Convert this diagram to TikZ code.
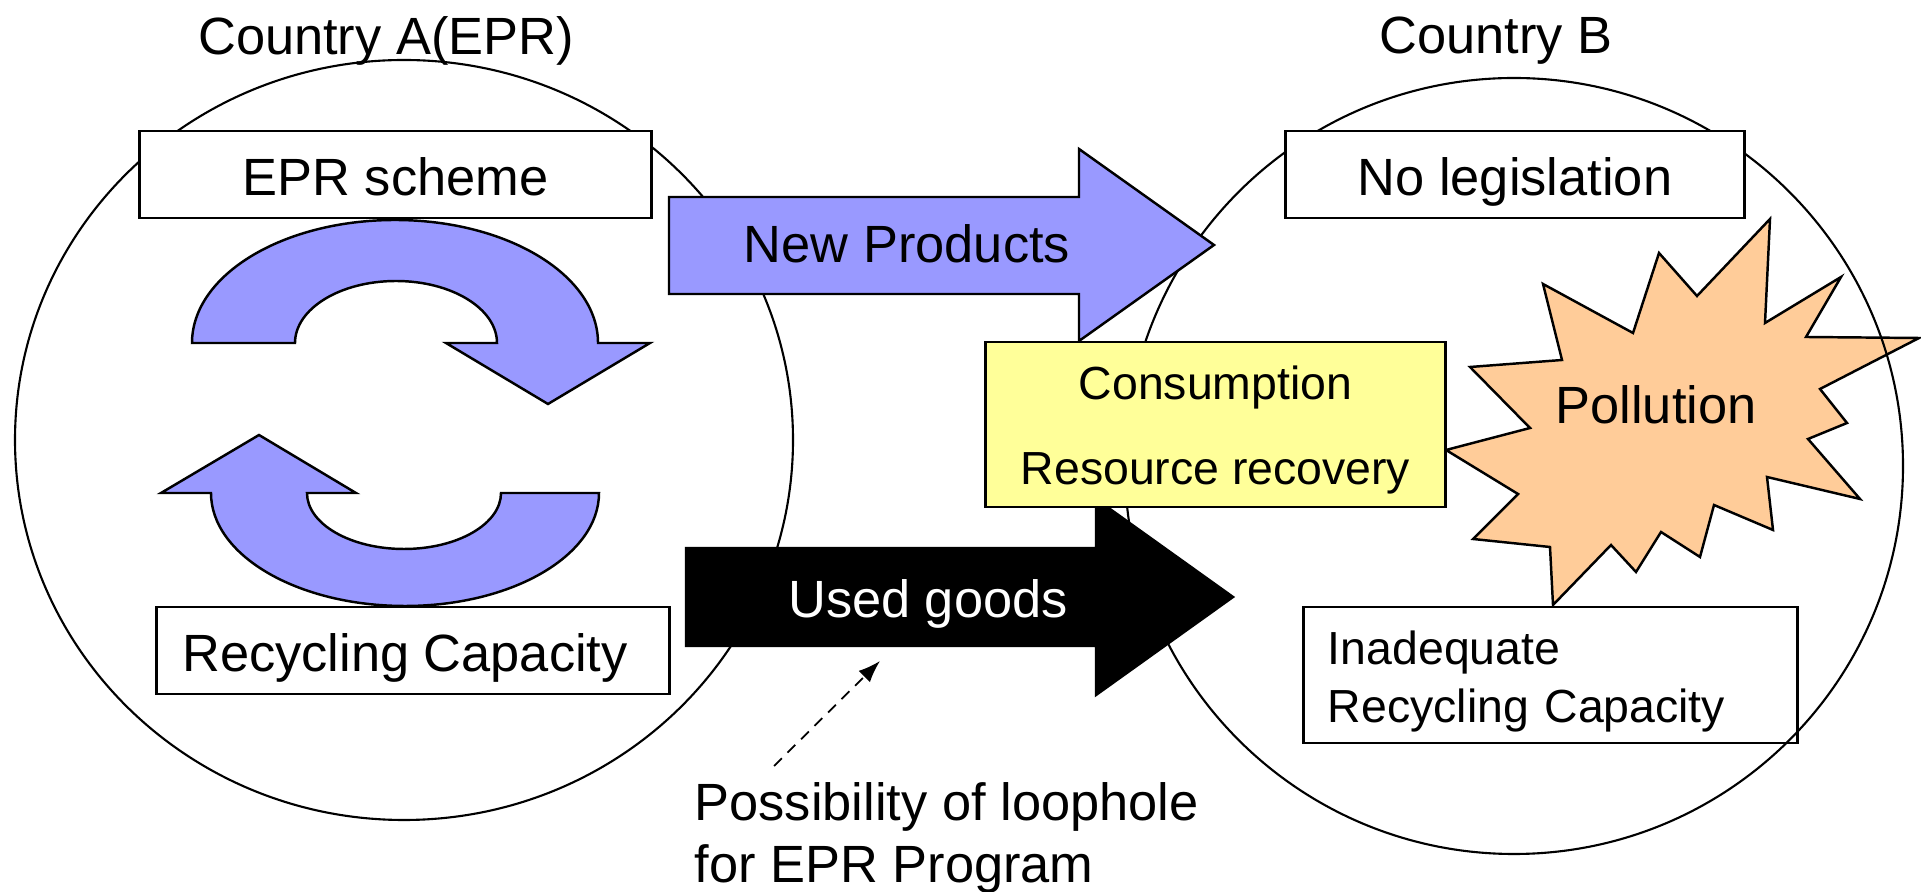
\documentclass[tikz,border=0pt]{standalone}
\usepackage{fontspec}
\setmainfont{Liberation Sans}
\usetikzlibrary{arrows.meta}

\definecolor{flowblue}{RGB}{153,153,255}
\definecolor{notepaper}{RGB}{255,255,153}
\definecolor{smog}{RGB}{255,204,153}

\newcommand{\bigfnt}{\fontsize{14.9}{17.6}\selectfont}
\newcommand{\smfnt}{\fontsize{13.2}{24.2}\selectfont}

\tikzset{
  labelbox/.style={draw,fill=white,line width=0.8pt,inner sep=0pt,
    font=\bigfnt,text height=0.55cm,text depth=0.14cm},
  blockarrow/.style={draw,line width=0.7pt,line join=miter},
}

\begin{document}
\begin{tikzpicture}[x=0.01cm,y=-0.01cm]
  \useasboundingbox (0,0) rectangle (1921,892);

  % pollution burst, under the circle of country B
  \draw[blockarrow,fill=smog]
    (1770,219) -- (1765,323) -- (1841,277) -- (1806,337) -- (1919,338)
    -- (1820,389) -- (1847,423) -- (1808,439) -- (1860,499) -- (1767,477)
    -- (1773,530) -- (1714,505) -- (1700,557) -- (1661,532) -- (1636,572)
    -- (1611,545) -- (1553,605) -- (1550,547) -- (1473,539) -- (1518,494)
    -- (1446,450) -- (1530,428) -- (1470,367) -- (1562,360) -- (1543,284)
    -- (1633,333) -- (1659,253) -- (1697,296) -- cycle;

  % the two countries
  \draw[line width=0.6pt] (404,440) ellipse [x radius=389, y radius=380];
  \draw[line width=0.6pt] (1514,466) ellipse [x radius=389, y radius=388];

  % recycling loop
  \begin{scope}[every path/.style={blockarrow,fill=flowblue}]
    \path (192,343) arc[start angle=180, end angle=360, x radius=203, y radius=123]
      -- (650,343) -- (548,404) -- (446,343) -- (497,343)
      arc[start angle=0, end angle=-180, x radius=101, y radius=62] -- cycle;
    \path (599,493) arc[start angle=0, end angle=180, x radius=194, y radius=113]
      -- (161,493) -- (259,435) -- (356,493) -- (307,493)
      arc[start angle=180, end angle=0, x radius=97, y radius=56] -- cycle;
  \end{scope}

  % flows between the countries
  \draw[blockarrow,fill=flowblue]
    (669,197) -- (1079,197) -- (1079,149) -- (1214,245)
    -- (1079,341) -- (1079,294) -- (669,294) -- cycle;
  \draw[blockarrow,fill=black]
    (686,548) -- (1096,548) -- (1096,499) -- (1233,597)
    -- (1096,695) -- (1096,646) -- (686,646) -- cycle;

  \begin{scope}[every node/.style={font=\bigfnt,inner sep=0pt,anchor=base}]
    \node (cA)   at (386,55)  {Country A(EPR)};
    \node (cB)   at (1496,54) {Country B};
    \node (newp) at (907,263) {New Products};
    \node[text=white] (used) at (928,618) {Used goods};
    \node (poll) at (1656,424) {Pollution};
  \end{scope}

  \node[labelbox,minimum width=5.11cm,minimum height=0.87cm] (epr)   at (395.5,174.5) {EPR scheme};
  \node[labelbox,minimum width=5.12cm,minimum height=0.87cm] (recA)  at (413,650.5)   {\hspace*{-0.16cm}Recycling Capacity};
  \node[labelbox,minimum width=4.58cm,minimum height=0.87cm] (nolaw) at (1515,174.5)  {No legislation};

  \node[draw,fill=notepaper,line width=0.8pt,inner sep=0pt,align=center,font=\smfnt,
        minimum width=4.59cm,minimum height=1.65cm] (cons) at (1215.5,424.5)
        {\rule{0pt}{12.6pt}Consumption\\Resource recovery};
  \node[draw,line width=0.8pt,inner ysep=0pt,inner xsep=0.24cm,align=left,
        font=\fontsize{13.2}{16.3}\selectfont,text width=4.45cm,
        minimum height=1.36cm] (recB) at (1550.5,675)
        {\rule{0pt}{13.2pt}Inadequate\\Recycling Capacity};

  % loophole note
  \node[font=\bigfnt,inner sep=0pt,anchor=north west,align=left] (hole) at (694,782)
        {Possibility of loophole\\for EPR Program};
  \coordinate (holetail) at (774,766);
  \coordinate (holehead) at (880,661);
  \draw[line width=0.5pt,dash pattern=on 0.11cm off 0.08cm,
        -{Latex[length=0.22cm,width=0.16cm]}] (holetail) -- (holehead);

\end{tikzpicture}
\end{document}
